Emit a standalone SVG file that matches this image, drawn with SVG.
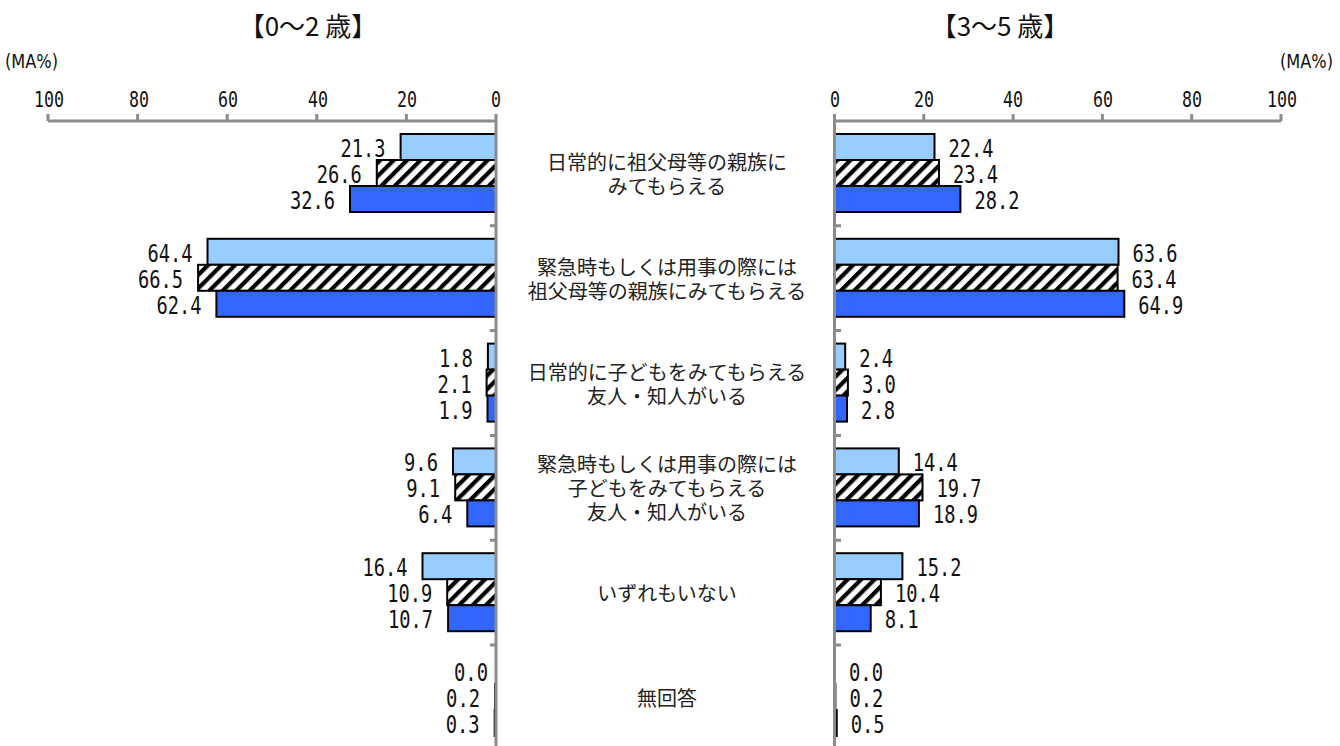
<svg xmlns="http://www.w3.org/2000/svg" width="1340" height="746" viewBox="0 0 1340 746">
<style>
.ax{stroke:#8c8c8c;stroke-width:3;fill:none}
.b1{fill:#99CCFF;stroke:#000;stroke-width:2}
.b2{fill:url(#hatch);stroke:#000;stroke-width:2}
.b3{fill:#3366FF;stroke:#000;stroke-width:2}
.v{font-family:"DejaVu Sans Mono","Liberation Mono",monospace;font-size:24px;fill:#111}
.l{text-anchor:end}
.t{font-family:"DejaVu Sans Mono","Liberation Mono",monospace;font-size:21px;fill:#111;text-anchor:middle}
.c{font-family:"Noto Sans CJK JP","Noto Sans",sans-serif;font-size:20px;fill:#222;text-anchor:middle}
.h{font-family:"Noto Sans CJK JP","Noto Sans",sans-serif;font-size:26px;fill:#111;text-anchor:middle}
.u{font-family:"DejaVu Sans","Liberation Sans",sans-serif;font-size:19px;fill:#111}
</style>
<defs>
<pattern id="hatch" width="9.5" height="9.5" patternUnits="userSpaceOnUse" patternTransform="rotate(45)">
<rect width="9.5" height="9.5" fill="#fff"/>
<rect width="4.2" height="9.5" fill="#000"/>
</pattern>
</defs>
<rect width="1340" height="746" fill="#fff"/>

<g id="titles">
<text class="h" x="308" y="36">【0～2 歳】</text>
<text class="h" x="1000" y="36">【3～5 歳】</text>
<text class="u" x="5" y="68" textLength="53" lengthAdjust="spacingAndGlyphs">(MA%)</text>
<text class="u" x="1280" y="68" textLength="53" lengthAdjust="spacingAndGlyphs">(MA%)</text>
</g>

<g id="tick-labels">
<text class="t" x="49" y="107" textLength="30" lengthAdjust="spacingAndGlyphs">100</text>
<text class="t" x="139" y="107" textLength="20" lengthAdjust="spacingAndGlyphs">80</text>
<text class="t" x="228" y="107" textLength="20" lengthAdjust="spacingAndGlyphs">60</text>
<text class="t" x="318" y="107" textLength="20" lengthAdjust="spacingAndGlyphs">40</text>
<text class="t" x="407" y="107" textLength="20" lengthAdjust="spacingAndGlyphs">20</text>
<text class="t" x="496" y="107" textLength="10" lengthAdjust="spacingAndGlyphs">0</text>
<text class="t" x="835" y="107" textLength="10" lengthAdjust="spacingAndGlyphs">0</text>
<text class="t" x="924" y="107" textLength="20" lengthAdjust="spacingAndGlyphs">20</text>
<text class="t" x="1013" y="107" textLength="20" lengthAdjust="spacingAndGlyphs">40</text>
<text class="t" x="1103" y="107" textLength="20" lengthAdjust="spacingAndGlyphs">60</text>
<text class="t" x="1192" y="107" textLength="20" lengthAdjust="spacingAndGlyphs">80</text>
<text class="t" x="1282" y="107" textLength="30" lengthAdjust="spacingAndGlyphs">100</text>
</g>

<g id="cat-1">
<rect class="b1" x="400.6" y="134" width="95.4" height="26"/>
<rect class="b2" x="376.8" y="160" width="119.2" height="26"/>
<rect class="b3" x="350" y="186" width="146" height="26"/>
<text class="v l" x="385.6" y="157" textLength="45" lengthAdjust="spacingAndGlyphs">21.3</text>
<text class="v l" x="361.8" y="183" textLength="45" lengthAdjust="spacingAndGlyphs">26.6</text>
<text class="v l" x="335" y="209" textLength="45" lengthAdjust="spacingAndGlyphs">32.6</text>
<rect class="b1" x="834.5" y="134" width="100" height="26"/>
<rect class="b2" x="834.5" y="160" width="104.5" height="26"/>
<rect class="b3" x="834.5" y="186" width="125.9" height="26"/>
<text class="v" x="948.5" y="157" textLength="45" lengthAdjust="spacingAndGlyphs">22.4</text>
<text class="v" x="953" y="183" textLength="45" lengthAdjust="spacingAndGlyphs">23.4</text>
<text class="v" x="974.4" y="209" textLength="45" lengthAdjust="spacingAndGlyphs">28.2</text>
<text class="c" x="667" y="170">日常的に祖父母等の親族に</text>
<text class="c" x="667" y="194">みてもらえる</text>
</g>

<g id="cat-2">
<rect class="b1" x="207.5" y="238.8" width="288.5" height="26"/>
<rect class="b2" x="198.1" y="264.8" width="297.9" height="26"/>
<rect class="b3" x="216.4" y="290.8" width="279.6" height="26"/>
<text class="v l" x="192.5" y="261.8" textLength="45" lengthAdjust="spacingAndGlyphs">64.4</text>
<text class="v l" x="183.1" y="287.8" textLength="45" lengthAdjust="spacingAndGlyphs">66.5</text>
<text class="v l" x="201.4" y="313.8" textLength="45" lengthAdjust="spacingAndGlyphs">62.4</text>
<rect class="b1" x="834.5" y="238.8" width="284" height="26"/>
<rect class="b2" x="834.5" y="264.8" width="283.1" height="26"/>
<rect class="b3" x="834.5" y="290.8" width="289.8" height="26"/>
<text class="v" x="1132.5" y="261.8" textLength="45" lengthAdjust="spacingAndGlyphs">63.6</text>
<text class="v" x="1131.6" y="287.8" textLength="45" lengthAdjust="spacingAndGlyphs">63.4</text>
<text class="v" x="1138.3" y="313.8" textLength="45" lengthAdjust="spacingAndGlyphs">64.9</text>
<text class="c" x="667" y="274.8">緊急時もしくは用事の際には</text>
<text class="c" x="667" y="298.8">祖父母等の親族にみてもらえる</text>
</g>

<g id="cat-3">
<rect class="b1" x="487.9" y="343.6" width="8.1" height="26"/>
<rect class="b2" x="486.6" y="369.6" width="9.4" height="26"/>
<rect class="b3" x="487.5" y="395.6" width="8.5" height="26"/>
<text class="v l" x="472.9" y="366.6" textLength="34" lengthAdjust="spacingAndGlyphs">1.8</text>
<text class="v l" x="471.6" y="392.6" textLength="34" lengthAdjust="spacingAndGlyphs">2.1</text>
<text class="v l" x="472.5" y="418.6" textLength="34" lengthAdjust="spacingAndGlyphs">1.9</text>
<rect class="b1" x="834.5" y="343.6" width="10.7" height="26"/>
<rect class="b2" x="834.5" y="369.6" width="13.4" height="26"/>
<rect class="b3" x="834.5" y="395.6" width="12.5" height="26"/>
<text class="v" x="859.2" y="366.6" textLength="34" lengthAdjust="spacingAndGlyphs">2.4</text>
<text class="v" x="861.9" y="392.6" textLength="34" lengthAdjust="spacingAndGlyphs">3.0</text>
<text class="v" x="861" y="418.6" textLength="34" lengthAdjust="spacingAndGlyphs">2.8</text>
<text class="c" x="667" y="379.6">日常的に子どもをみてもらえる</text>
<text class="c" x="667" y="403.6">友人・知人がいる</text>
</g>

<g id="cat-4">
<rect class="b1" x="453" y="448.4" width="43" height="26"/>
<rect class="b2" x="455.2" y="474.4" width="40.8" height="26"/>
<rect class="b3" x="467.3" y="500.4" width="28.7" height="26"/>
<text class="v l" x="438" y="471.4" textLength="34" lengthAdjust="spacingAndGlyphs">9.6</text>
<text class="v l" x="440.2" y="497.4" textLength="34" lengthAdjust="spacingAndGlyphs">9.1</text>
<text class="v l" x="452.3" y="523.4" textLength="34" lengthAdjust="spacingAndGlyphs">6.4</text>
<rect class="b1" x="834.5" y="448.4" width="64.3" height="26"/>
<rect class="b2" x="834.5" y="474.4" width="88" height="26"/>
<rect class="b3" x="834.5" y="500.4" width="84.4" height="26"/>
<text class="v" x="912.8" y="471.4" textLength="45" lengthAdjust="spacingAndGlyphs">14.4</text>
<text class="v" x="936.5" y="497.4" textLength="45" lengthAdjust="spacingAndGlyphs">19.7</text>
<text class="v" x="932.9" y="523.4" textLength="45" lengthAdjust="spacingAndGlyphs">18.9</text>
<text class="c" x="667" y="472.4">緊急時もしくは用事の際には</text>
<text class="c" x="667" y="496.4">子どもをみてもらえる</text>
<text class="c" x="667" y="520.4">友人・知人がいる</text>
</g>

<g id="cat-5">
<rect class="b1" x="422.5" y="553.2" width="73.5" height="26"/>
<rect class="b2" x="447.2" y="579.2" width="48.8" height="26"/>
<rect class="b3" x="448.1" y="605.2" width="47.9" height="26"/>
<text class="v l" x="407.5" y="576.2" textLength="45" lengthAdjust="spacingAndGlyphs">16.4</text>
<text class="v l" x="432.2" y="602.2" textLength="45" lengthAdjust="spacingAndGlyphs">10.9</text>
<text class="v l" x="433.1" y="628.2" textLength="45" lengthAdjust="spacingAndGlyphs">10.7</text>
<rect class="b1" x="834.5" y="553.2" width="67.9" height="26"/>
<rect class="b2" x="834.5" y="579.2" width="46.4" height="26"/>
<rect class="b3" x="834.5" y="605.2" width="36.2" height="26"/>
<text class="v" x="916.4" y="576.2" textLength="45" lengthAdjust="spacingAndGlyphs">15.2</text>
<text class="v" x="894.9" y="602.2" textLength="45" lengthAdjust="spacingAndGlyphs">10.4</text>
<text class="v" x="884.7" y="628.2" textLength="34" lengthAdjust="spacingAndGlyphs">8.1</text>
<text class="c" x="667" y="601.2">いずれもいない</text>
</g>

<g id="cat-6">
<rect class="b2" x="495.1" y="684" width="0.9" height="26"/>
<rect class="b3" x="494.7" y="710" width="1.3" height="26"/>
<text class="v l" x="488" y="681" textLength="34" lengthAdjust="spacingAndGlyphs">0.0</text>
<text class="v l" x="480.1" y="707" textLength="34" lengthAdjust="spacingAndGlyphs">0.2</text>
<text class="v l" x="479.7" y="733" textLength="34" lengthAdjust="spacingAndGlyphs">0.3</text>
<rect class="b2" x="834.5" y="684" width="0.9" height="26"/>
<rect class="b3" x="834.5" y="710" width="2.2" height="26"/>
<text class="v" x="849" y="681" textLength="34" lengthAdjust="spacingAndGlyphs">0.0</text>
<text class="v" x="849.4" y="707" textLength="34" lengthAdjust="spacingAndGlyphs">0.2</text>
<text class="v" x="850.7" y="733" textLength="34" lengthAdjust="spacingAndGlyphs">0.5</text>
<text class="c" x="667" y="706">無回答</text>
</g>

<g id="axes">
<path class="ax" d="M48,121H496M48,114V121M137.6,114V121M227.2,114V121M316.8,114V121M406.4,114V121M496,114V746"/>
<path class="ax" d="M490,225.8H496M490,330.6H496M490,435.4H496M490,540.2H496M490,645H496"/>
<path class="ax" d="M834.5,121H1281M1281,114V121M1191.7,114V121M1102.4,114V121M1013.1,114V121M923.8,114V121M834.5,114V746"/>
<path class="ax" d="M834.5,225.8H841M834.5,330.6H841M834.5,435.4H841M834.5,540.2H841M834.5,645H841"/>
</g>
<g id="connectors"/>
</svg>
